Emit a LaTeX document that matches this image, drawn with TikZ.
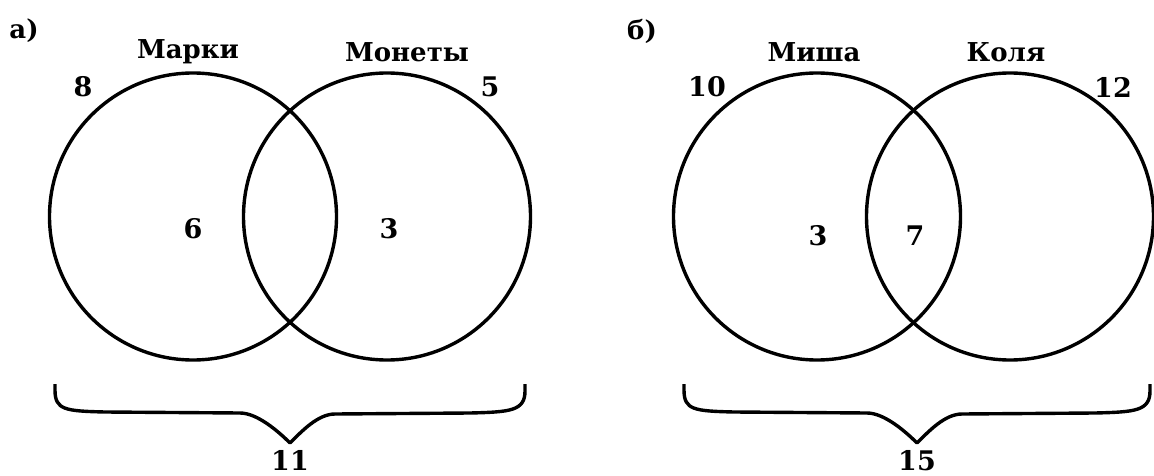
\documentclass[tikz,border=0pt]{standalone}
\usepackage{fontspec}
\setmainfont{DejaVu Serif}
\begin{document}
\begin{tikzpicture}[x=1pt,y=-1pt,
  venn/.style={draw, line width=3.4pt, circle, minimum size=287pt, inner sep=0pt},
  lbl/.style={font=\fontsize{26}{28}\selectfont\bfseries, inner sep=0pt},
  num/.style={font=\fontsize{27}{29}\selectfont\bfseries, inner sep=0pt},
  brace/.style={line width=3.4pt, line join=round}]
\useasboundingbox (0,0) rectangle (1154,476);
% panel a
\node[venn] (A1) at (193,216.5) {};
\node[venn] (A2) at (387,216.5) {};
\node[lbl] (la) at (24,31) {а)};
\node[lbl] (tA1) at (188,52) {Марки};
\node[lbl] (tA2) at (407,52) {Монеты};
\node[num] (n8) at (83,87) {8};
\node[num] (n5) at (490,87) {5};
\node[num] (n6) at (193,229) {6};
\node[num] (n3a) at (389,229) {3};
\coordinate (bAL) at (55,384);
\coordinate (bAR) at (525,384);
\coordinate (bAT) at (290,443);
\draw[brace] (bAL) -- ++(0,6) .. controls +(0,20) and +(-40,-1) .. ++(50,22) -- ++(135,1)
  .. controls +(17,0) and +(-12,-12) .. (bAT)
  .. controls +(12,-12) and +(-17,0) .. ++(45,-29) -- ++(135,-1)
  .. controls +(40,-1) and +(0,20) .. ++(55,-22) -- (bAR);
\node[num,anchor=base] (n11) at (290,470) {11};
% panel b
\node[venn] (B1) at (817,216.5) {};
\node[venn] (B2) at (1010,216.5) {};
\node[lbl] (lb) at (642,31) {б)};
\node[lbl] (tB1) at (814,52) {Миша};
\node[lbl] (tB2) at (1006,52) {Коля};
\node[num] (n10) at (707,87) {10};
\node[num] (n12) at (1113,87) {12};
\node[num] (n3b) at (818,236) {3};
\node[num] (n7) at (915,236) {7};
\coordinate (bBL) at (684,384);
\coordinate (bBR) at (1150,384);
\coordinate (bBT) at (917,443);
\draw[brace] (bBL) -- ++(0,6) .. controls +(0,20) and +(-40,-1) .. ++(50,22) -- ++(133,1)
  .. controls +(17,0) and +(-12,-12) .. (bBT)
  .. controls +(12,-12) and +(-17,0) .. ++(45,-29) -- ++(133,-1)
  .. controls +(40,-1) and +(0,20) .. ++(55,-22) -- (bBR);
\node[num,anchor=base] (n15) at (917,470) {15};
\end{tikzpicture}
\end{document}
